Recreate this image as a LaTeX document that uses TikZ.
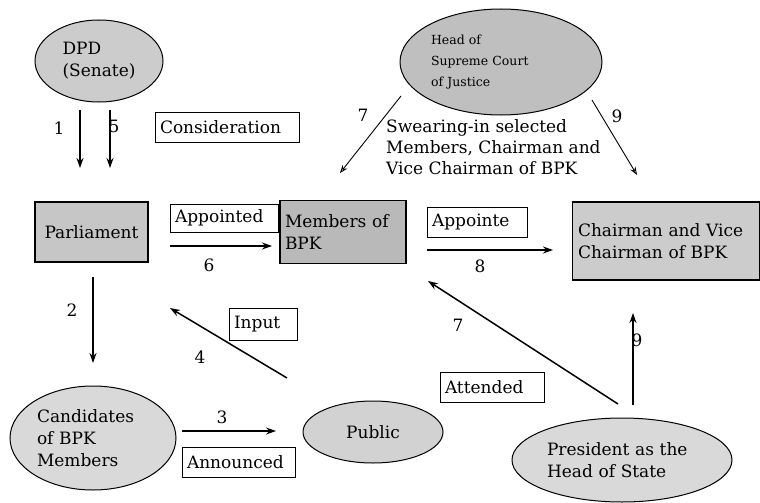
\documentclass[tikz,border=0pt]{standalone}
\usepackage{fontspec}
\setmainfont{DejaVu Serif}
\usetikzlibrary{shapes.geometric,arrows.meta}
\begin{document}
\begin{tikzpicture}[>={Stealth[length=10pt,width=7pt]}, x=1pt, y=-1pt,
  font=\fontsize{17}{22}\selectfont,
  blob/.style={ellipse, draw, line width=1pt, fill=gray!#1, inner sep=0pt, align=left},
  slab/.style={rectangle, draw, line width=1.3pt, fill=gray!#1, inner sep=0pt, align=left},
  tag/.style={rectangle, draw, line width=.7pt, text width=#1, inner xsep=5pt, inner ysep=0pt, minimum height=30pt, align=left},
  flow/.style={->, line width=1.5pt},
  oath/.style={-{Stealth[open,length=8pt,width=6pt]}, line width=.9pt}]
\useasboundingbox (0,0) rectangle (760,503);
% bodies
\node[blob=40, minimum width=128pt, minimum height=82pt] (dpd) at (99,61) {DPD\\(Senate)};
\node[blob=50, minimum width=202pt, minimum height=106pt, text width=140pt, font=\fontsize{12.5}{21}\selectfont] (court) at (501,62) {Head of\\Supreme Court\\of Justice};
\node[blob=30, minimum width=166pt, minimum height=104pt, text width=112pt] (cand) at (93,438) {Candidates\\of BPK\\Members};
\node[blob=35, minimum width=140pt, minimum height=62pt] (pub) at (373,432) {Public};
\node[blob=30, minimum width=220pt, minimum height=84pt, text width=150pt] (pres) at (622,460) {President as the\\Head of State};
\node[slab=45, minimum width=113pt, minimum height=60pt] (parl) at (91.5,232) {Parliament};
\node[slab=55, minimum width=126pt, minimum height=63pt, text width=116pt] (memb) at (343,232) {Members of\\BPK};
\node[slab=40, minimum width=187pt, minimum height=78pt, text width=176pt] (chair) at (666,241) {Chairman and Vice\\Chairman of BPK};
% labels
\node[tag=134pt] (cons) at (227,127.5) {Consideration};
\node[tag=98pt, minimum height=28pt] (appd) at (224,218) {Appointed};
\node[tag=90pt] (appe) at (477,222.5) {Appointe};
\node[tag=58pt, minimum height=32pt] (inp) at (263,324) {Input};
\node[tag=103pt] (annc) at (238.5,462.5) {Announced};
\node[tag=94pt] (attd) at (492,387.5) {Attended};
\node[anchor=north west, inner sep=0pt, align=left, font=\fontsize{17}{21}\selectfont] (swear) at (386,119) {Swearing-in selected\\Members, Chairman and\\Vice Chairman of BPK};
% arrow ends
\coordinate (a1s) at (80,110); \coordinate (a1e) at (80,168);
\coordinate (a5s) at (110,110); \coordinate (a5e) at (110,168);
\coordinate (a6s) at (170,246); \coordinate (a6e) at (272,246);
\coordinate (a8s) at (427,250); \coordinate (a8e) at (553,250);
\coordinate (a2s) at (93,277); \coordinate (a2e) at (93,363);
\coordinate (a4s) at (287,378); \coordinate (a4e) at (170,308);
\coordinate (a3s) at (182,431); \coordinate (a3e) at (276,431);
\coordinate (b7s) at (618,404); \coordinate (b7e) at (428,281);
\coordinate (b9s) at (633,405); \coordinate (b9e) at (633,313);
\coordinate (c7s) at (401,96); \coordinate (c7e) at (340,173);
\coordinate (c9s) at (592,100); \coordinate (c9e) at (637,175);
\draw[flow](a1s)--(a1e);
\draw[flow](a5s)--(a5e);
\draw[flow](a6s)--(a6e);
\draw[flow](a8s)--(a8e);
\draw[flow](a2s)--(a2e);
\draw[flow](a4s)--(a4e);
\draw[flow](a3s)--(a3e);
\draw[flow](b7s)--(b7e);
\draw[flow](b9s)--(b9e);
\draw[oath](c7s)--(c7e);
\draw[oath](c9s)--(c9e);
% step numbers
\node (n1) at (59,128) {1};
\node (n5) at (114,126) {5};
\node (n6) at (209,265) {6};
\node (n8) at (480,266) {8};
\node (n2) at (72,310) {2};
\node (n4) at (200,357) {4};
\node (n3) at (222,417) {3};
\node (n7a) at (363,115) {7};
\node (n9a) at (617,116) {9};
\node (n7b) at (458,325) {7};
\node (n9b) at (637,340) {9};
\end{tikzpicture}
\end{document}
